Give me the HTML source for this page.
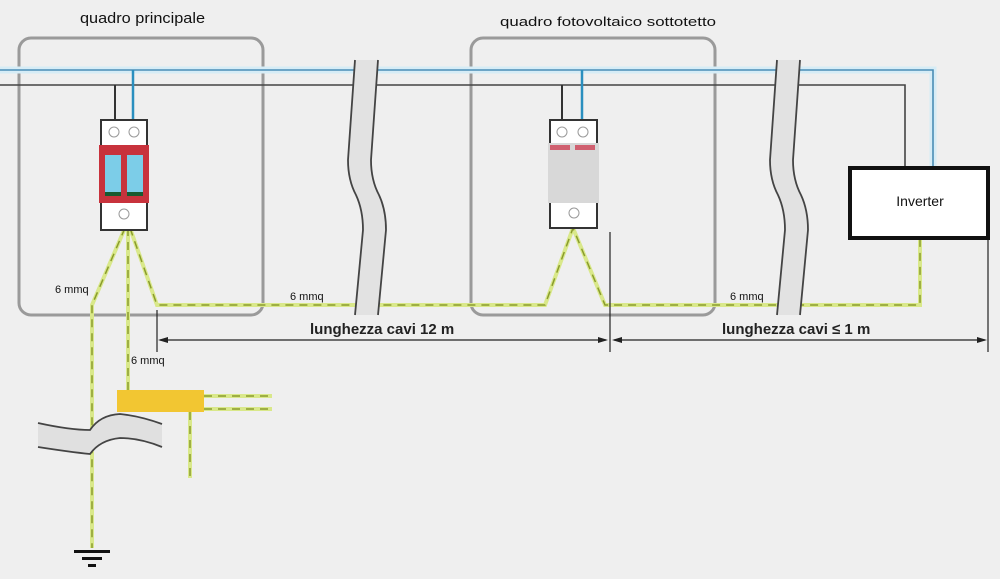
<!DOCTYPE html>
<html><head><meta charset="utf-8"><style>
html,body{margin:0;padding:0;background:#efefef;}
svg{display:block;font-family:"Liberation Sans",Arial,sans-serif;}
</style></head><body>
<svg width="1000" height="579" viewBox="0 0 1000 579" xmlns="http://www.w3.org/2000/svg">
<rect width="1000" height="579" fill="#efefef"/>
<rect x="19" y="38" width="244" height="277" rx="12" fill="none" stroke="#9a9a9a" stroke-width="3"/>
<rect x="471" y="38" width="244" height="277" rx="12" fill="none" stroke="#9a9a9a" stroke-width="3"/>
<polyline points="0,70 933,70 933,167" fill="none" stroke="#d6ecf6" stroke-width="7"/>
<polyline points="0,70 933,70 933,167" fill="none" stroke="#4a8db5" stroke-width="1.6"/>
<polyline points="0,85 905,85 905,167" fill="none" stroke="#444" stroke-width="1.6"/>
<line x1="115" y1="85" x2="115" y2="121" stroke="#333" stroke-width="2"/>
<line x1="133" y1="70" x2="133" y2="121" stroke="#2a8fbf" stroke-width="2.5"/>
<line x1="562" y1="85" x2="562" y2="121" stroke="#333" stroke-width="2"/>
<line x1="582" y1="70" x2="582" y2="121" stroke="#2a8fbf" stroke-width="2.5"/>
<g fill="none" stroke-width="4">
<g stroke="#d9e88a">
<polyline points="125,228 92,305 92,548"/>
<polyline points="128,228 128,392"/>
<polyline points="130,228 157,305 545,305 573,228 605,305 920,305 920,238"/>
<polyline points="204,396 272,396"/><polyline points="204,409 272,409"/>
<polyline points="190,412 190,478"/>
</g>
<g stroke="#8a9c2c" stroke-width="1.5" stroke-dasharray="8,6">
<polyline points="125,228 92,305 92,548"/>
<polyline points="128,228 128,392"/>
<polyline points="130,228 157,305 545,305 573,228 605,305 920,305 920,238"/>
<polyline points="204,396 272,396"/><polyline points="204,409 272,409"/>
<polyline points="190,412 190,478"/>
</g>
</g>
<rect x="101" y="120" width="46" height="110" fill="#fff" stroke="#333" stroke-width="2"/>
<circle cx="114" cy="132" r="5" fill="none" stroke="#999"/><circle cx="134" cy="132" r="5" fill="none" stroke="#999"/>
<rect x="99" y="145" width="50" height="58" fill="#c8323c"/>
<rect x="105" y="155" width="16" height="40" fill="#7ccde8"/><rect x="127" y="155" width="16" height="40" fill="#7ccde8"/>
<rect x="105" y="192" width="16" height="4" fill="#185a30"/><rect x="127" y="192" width="16" height="4" fill="#185a30"/>
<circle cx="124" cy="214" r="5" fill="none" stroke="#999"/>
<rect x="550" y="120" width="47" height="108" fill="#fff" stroke="#333" stroke-width="2"/>
<circle cx="562" cy="132" r="5" fill="none" stroke="#999"/><circle cx="583" cy="132" r="5" fill="none" stroke="#999"/>
<rect x="548" y="143" width="51" height="60" fill="#d8d8d8"/>
<rect x="550" y="145" width="20" height="5" fill="#d06070"/><rect x="575" y="145" width="20" height="5" fill="#d06070"/>
<circle cx="574" cy="213" r="5" fill="none" stroke="#999"/>
<path d="M355,60 L348,160 Q348,180 356,195 Q363,210 363,230 L355,315 L378,315 L386,230 Q386,210 379,195 Q371,180 371,160 L378,60 Z" fill="#e2e2e2"/>
<path d="M355,60 L348,160 Q348,180 356,195 Q363,210 363,230 L355,315 M378,60 L371,160 Q371,180 379,195 Q386,210 386,230 L378,315" fill="none" stroke="#444" stroke-width="1.8"/>
<path d="M777,60 L770,160 Q770,180 778,195 Q785,210 785,230 L777,315 L800,315 L808,230 Q808,210 801,195 Q793,180 793,160 L800,60 Z" fill="#e2e2e2"/>
<path d="M777,60 L770,160 Q770,180 778,195 Q785,210 785,230 L777,315 M800,60 L793,160 Q793,180 801,195 Q808,210 808,230 L800,315" fill="none" stroke="#444" stroke-width="1.8"/>
<path d="M38,423 Q70,430 90,430 Q100,415 120,414 Q140,416 162,424 L162,447 Q140,438 120,438 Q100,440 90,454 Q70,452 38,447 Z" fill="#e0e0e0"/>
<path d="M38,423 Q70,430 90,430 Q100,415 120,414 Q140,416 162,424 M38,447 Q70,452 90,454 Q100,440 120,438 Q140,438 162,447" fill="none" stroke="#444" stroke-width="1.8"/>
<rect x="117" y="390" width="87" height="22" fill="#f2c632"/>
<rect x="74" y="550" width="36" height="3" fill="#111"/><rect x="82" y="557" width="20" height="3" fill="#111"/><rect x="88" y="564" width="8" height="3" fill="#111"/>
<rect x="850" y="168" width="138" height="70" fill="#fff" stroke="#111" stroke-width="4"/>
<text x="920" y="206" font-size="14" text-anchor="middle" fill="#111">Inverter</text>
<g stroke="#222" stroke-width="1.2">
<line x1="157" y1="310" x2="157" y2="352"/>
<line x1="610" y1="232" x2="610" y2="352"/>
<line x1="988" y1="240" x2="988" y2="352"/>
<line x1="160" y1="340" x2="606" y2="340"/>
<line x1="614" y1="340" x2="985" y2="340"/>
</g>
<g fill="#222">
<path d="M158,340 L168,337 L168,343 Z"/><path d="M608,340 L598,337 L598,343 Z"/>
<path d="M612,340 L622,337 L622,343 Z"/><path d="M987,340 L977,337 L977,343 Z"/>
</g>
<g fill="#111">
<text x="80" y="23" font-size="15" textLength="125" lengthAdjust="spacingAndGlyphs">quadro principale</text>
<text x="500" y="26" font-size="13" textLength="216" lengthAdjust="spacingAndGlyphs">quadro fotovoltaico sottotetto</text>
<text x="55" y="293" font-size="11">6 mmq</text>
<text x="290" y="300" font-size="11">6 mmq</text>
<text x="730" y="300" font-size="11">6 mmq</text>
<text x="131" y="364" font-size="11">6 mmq</text>
<text x="310" y="334" font-size="15" font-weight="bold" fill="#222">lunghezza cavi 12 m</text>
<text x="722" y="334" font-size="15" font-weight="bold" fill="#222">lunghezza cavi ≤ 1 m</text>
</g>
</svg>
</body></html>
